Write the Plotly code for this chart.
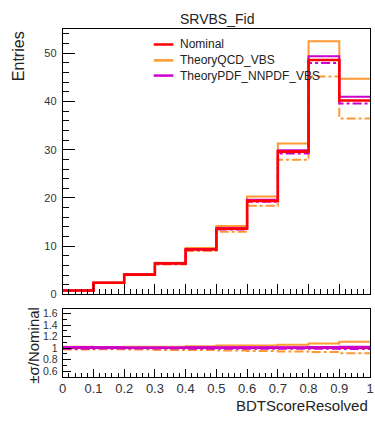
import plotly.graph_objects as go

edges = [0.0, 0.1, 0.2, 0.3, 0.4, 0.5, 0.6, 0.7, 0.8, 0.9, 1.0]
nominal = [0.8, 2.4, 4.1, 6.4, 9.3, 13.6, 19.4, 29.6, 48.6, 40.2]
qcd_up = [0.82, 2.45, 4.2, 6.55, 9.6, 14.2, 20.3, 31.3, 52.5, 44.7]
qcd_down = [0.78, 2.35, 4.0, 6.2, 9.0, 13.0, 18.4, 27.9, 45.2, 36.5]
pdf_up = [0.81, 2.42, 4.13, 6.45, 9.4, 13.75, 19.6, 29.9, 49.4, 41.0]
pdf_down = [0.79, 2.38, 4.07, 6.35, 9.2, 13.45, 19.2, 29.2, 48.0, 39.6]
legend_names = ["Nominal", "TheoryQCD_VBS", "TheoryPDF_NNPDF_VBS"]

RED = "#ff0000"
ORANGE = "#ff9933"
MAGENTA = "#cc00cc"
FONT = "Liberation Sans, Arial, sans-serif"

def step(vals):
    return vals + [vals[-1]]

def ratio(vals):
    return [v / n for v, n in zip(vals, nominal)]

fig = go.Figure()

series = [
    (qcd_up, ORANGE, "solid"),
    (qcd_down, ORANGE, "dashdot"),
    (pdf_up, MAGENTA, "solid"),
    (pdf_down, MAGENTA, "dashdot"),
]

for vals, col, dash in series:
    fig.add_trace(go.Scatter(x=edges, y=step(vals), mode="lines",
                             line=dict(color=col, width=2, shape="hv", dash=dash),
                             showlegend=False, xaxis="x", yaxis="y"))
fig.add_trace(go.Scatter(x=edges, y=step(nominal), mode="lines", line=dict(color=RED, width=2.6, shape="hv"),
                         showlegend=False, xaxis="x", yaxis="y"))

# ratio panel
fig.add_trace(go.Scatter(x=edges, y=step(ratio(nominal)), mode="lines", line=dict(color=RED, width=2, shape="hv"),
                         showlegend=False, xaxis="x2", yaxis="y2"))
for vals, col, dash in series:
    fig.add_trace(go.Scatter(x=edges, y=step(ratio(vals)), mode="lines",
                             line=dict(color=col, width=2, shape="hv", dash=dash),
                             showlegend=False, xaxis="x2", yaxis="y2"))
fig.add_trace(go.Scatter(x=edges, y=step(ratio(pdf_up)), mode="lines", line=dict(color=MAGENTA, width=2.5, shape="hv"),
                         showlegend=False, xaxis="x2", yaxis="y2"))

axis_common = dict(showline=True, linecolor="black", linewidth=1, mirror=True, ticks="inside",
                   tickcolor="black", showgrid=False, zeroline=False)

H = 423.0
W = 375.0
xdom = [60 / W, 374 / W]
fig.update_layout(
    width=375, height=423,
    margin=dict(l=0, r=0, t=0, b=0),
    paper_bgcolor="white", plot_bgcolor="white",
    showlegend=False,
    xaxis=dict(domain=xdom, range=[0, 1], anchor="y", showticklabels=False,
               dtick=0.1, ticklen=10, minor=dict(ticks="inside", dtick=0.02, ticklen=5, tickcolor="black"),
               **axis_common),
    yaxis=dict(domain=[(H - 298) / H, (H - 27.7) / H], range=[0, 55], anchor="x",
               dtick=10, ticklen=12, ticklabelstandoff=3,
               minor=dict(ticks="inside", dtick=2, ticklen=6, tickcolor="black"),
               tickfont=dict(family=FONT, color="#333333", size=11),
               **axis_common),
    xaxis2=dict(domain=xdom, range=[0, 1], anchor="y2", dtick=0.1, ticklen=8,
                ticklabeloverflow="allow",
                minor=dict(ticks="inside", dtick=0.02, ticklen=4, tickcolor="black"),
                tickfont=dict(family=FONT, color="#333333", size=13),
                **axis_common),
    yaxis2=dict(domain=[(H - 382) / H, (H - 313) / H], range=[0.5, 1.68], anchor="x2",
                tickvals=[0.6, 0.8, 1.0, 1.2, 1.4, 1.6], ticktext=["0.6", "0.8", "1", "1.2", "1.4", "1.6"],
                ticklen=8, ticklabelstandoff=2,
                minor=dict(ticks="inside", dtick=0.1, ticklen=4, tickcolor="black"),
                tickfont=dict(family=FONT, color="#333333", size=10.5),
                **axis_common),
)

# legend drawn in paper space (ROOT-style TLegend without border)
leg_cols = [RED, ORANGE, MAGENTA]
leg_y = [43.3, 59.5, 75]
for name, col, yy in zip(legend_names, leg_cols, leg_y):
    fig.add_shape(type="line", xref="paper", yref="paper", x0=153 / W, x1=173 / W,
                  y0=(H - yy) / H, y1=(H - yy) / H, line=dict(color=col, width=2.5))
    fig.add_annotation(text=name, x=178 / W, y=(H - yy) / H, xref="paper", yref="paper",
                       showarrow=False, xanchor="left", yanchor="middle",
                       font=dict(family=FONT, size=12, color="#222222"))

fig.add_annotation(text="SRVBS_Fid", x=218 / W, y=(H - 17) / H, xref="paper", yref="paper",
                   showarrow=False, font=dict(family=FONT, size=14, color="#222222"), xanchor="center", yanchor="middle")
fig.add_annotation(text="Entries", x=15 / W, y=(H - 28) / H, xref="paper", yref="paper", textangle=-90,
                   showarrow=False, font=dict(family=FONT, size=16, color="#222222"), xanchor="center", yanchor="top")
fig.add_annotation(text="±σ/Nominal", x=30 / W, y=(H - 350) / H, xref="paper", yref="paper", textangle=-90,
                   showarrow=False, font=dict(family=FONT, size=15, color="#222222"), xanchor="center", yanchor="middle")
fig.add_annotation(text="BDTScoreResolved", x=374 / W, y=(H - 411) / H, xref="paper", yref="paper",
                   showarrow=False, font=dict(family=FONT, size=15, color="#222222"), xanchor="right", yanchor="middle")

fig.write_html("out.html", config={"displayModeBar": False},
               post_script="document.body.style.margin='0px';document.body.style.overflow='hidden';")
